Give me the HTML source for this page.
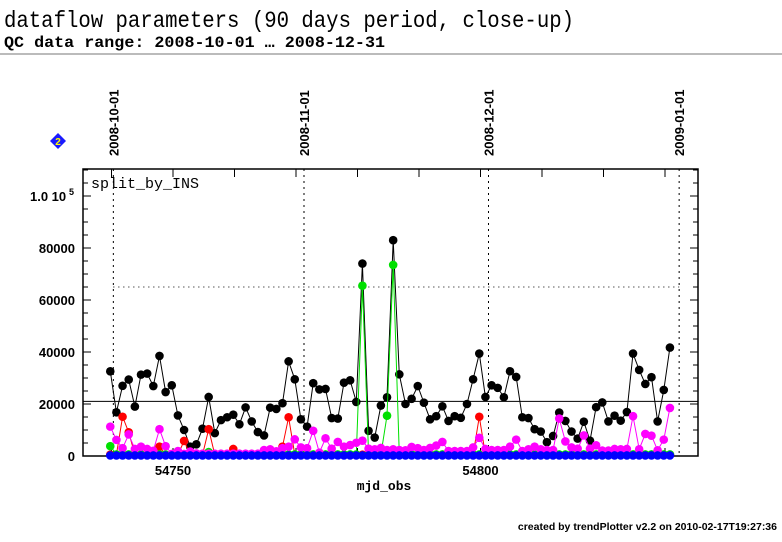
<!DOCTYPE html>
<html><head><meta charset="utf-8"><style>
body{margin:0;background:#fff;width:782px;height:542px;overflow:hidden}
svg{display:block}
</style></head><body>
<svg id="chart" width="782" height="542" xmlns="http://www.w3.org/2000/svg">
<text x="4" y="27" font-family="Liberation Mono, monospace" font-size="23" textLength="570" lengthAdjust="spacingAndGlyphs" fill="#000">dataflow parameters (90 days period, close-up)</text>
<text x="4" y="47" font-family="Liberation Mono, monospace" font-size="16" font-weight="bold" textLength="381" lengthAdjust="spacingAndGlyphs" fill="#000">QC data range: 2008-10-01 … 2008-12-31</text>
<line x1="0" y1="54" x2="782" y2="54" stroke="#777" stroke-width="1"/>
<g><polygon points="58,133 66,141 58,149 50,141" fill="#1a1aff"/><text x="58" y="145" font-family="Liberation Sans, sans-serif" font-size="10" font-weight="bold" fill="#ff0" text-anchor="middle">2</text></g>
<text x="91" y="188" font-family="Liberation Mono, monospace" font-size="15" fill="#000">split_by_INS</text>
<text x="384" y="490" font-family="Liberation Mono, monospace" font-size="13" font-weight="bold" text-anchor="middle">mjd_obs</text>
<text x="777" y="530" font-family="Liberation Sans, sans-serif" font-size="10.5" font-weight="bold" text-anchor="end">created by trendPlotter v2.2 on 2010-02-17T19:27:36</text>
<g id="plot"></g>
</svg>
<script>
const startMjd = 54739.8;
const blackVals = [32560,16800,27000,29400,19000,31300,31700,26900,38500,24600,27200,15600,10000,3600,4500,10500,22700,8800,13800,14900,15900,12200,18700,13300,9200,7900,18600,18100,20300,36400,29500,14100,11300,28000,25600,25800,14600,14400,28200,29100,20800,74000,9700,7100,19400,22600,83000,
31400,20000,22000,26900,20500,14100,15300,19100,13500,15300,14700,20000,29500,39400,22700,27200,26200,22600,32600,30400,14900,14600,10300,9400,5300,7700,16700,13500,9400,6700,13200,5900,18800,20600,13300,15500,13600,16900,39400,33100,27700,30300,13300,25400,41700];
const magentaVals = [11300,6200,3000,8300,2700,3600,2700,2000,10300,3800,800,1900,800,1700,1000,900,900,900,900,900,900,900,900,900,900,2300,2600,1800,3000,3600,6400,3300,3000,9700,1300,6800,2800,5400,3600,4200,5100,5900,2800,2600,3100,2300,2600,
2300,2200,3500,3000,2300,3100,4000,5400,1900,1900,1900,1900,3300,7000,2700,2300,2300,2300,3600,6300,1900,2600,3600,2600,2300,2300,14400,5600,3300,2800,7900,2800,4100,2100,2100,2700,2600,2700,15300,2600,8500,7800,2200,6300,18500];
const redVals = [500,500,15100,9100,500,500,500,500,3600,500,500,500,5800,500,500,500,10300,500,500,500,2700,500,300,300,300,300,300,300,3600,14900,500,500,500,500,500,500,500,500,500,500,500,500,500,500,500,500,500,
500,500,500,500,500,500,500,500,500,500,500,500,500,15100,500,500,500,500,500,500,500,500,500,500,500,500,500,500,500,500,500,500,500,500,500,500,500,500,500,500,500,500,500,500,500];
const greenVals = [3800,600,600,600,600,600,600,600,600,600,600,600,600,600,600,600,1500,600,600,600,600,600,600,600,600,600,600,600,600,600,600,600,600,600,600,600,600,600,600,600,600,65500,600,600,600,15500,73500,
600,600,600,600,600,600,600,600,600,600,600,600,600,600,600,600,600,600,600,600,600,600,600,600,600,600,600,600,600,600,600,600,600,600,600,600,600,600,600,600,600,600,600,600,600];
const blueVals = blackVals.map(()=>200);
const xTickLabels = ["54750","54800"];
const yTickLabels = ["0","20000","40000","60000","80000"];
const dateLabels = ["2008-10-01","2008-11-01","2008-12-01","2009-01-01"];
const dateMjds = [54740.3,54771.3,54801.3,54832.3];

const L=83,R=698,T=169,B=456;
const xS = m => 173 + (m-54750)*6.15;
const yS = v => B - v*26/10000;
const NS="http://www.w3.org/2000/svg";
const g=document.getElementById('plot');
function mk(tag,attrs,parent){const e=document.createElementNS(NS,tag);for(const k in attrs)e.setAttribute(k,attrs[k]);(parent||g).appendChild(e);return e;}

dateMjds.forEach((m,i)=>{
  const l=mk('line',{x1:xS(m),y1:T,x2:xS(m),y2:B,stroke:'#000','stroke-dasharray':'2,4','stroke-width':1});
  
  
  const t=mk('text',{x:0,y:0,transform:`translate(${xS(m)+5},156) rotate(-90)`,'font-family':'Liberation Sans, sans-serif','font-size':13,'font-weight':'bold'});
  t.textContent=dateLabels[i];
  
  
});
const hl=mk('line',{x1:L,y1:yS(21000),x2:R,y2:yS(21000),stroke:'#000','stroke-width':1});


const hd=mk('line',{x1:xS(54740.3),y1:yS(65000),x2:xS(54832.3),y2:yS(65000),stroke:'#000','stroke-dasharray':'1,4','stroke-width':1});



const fr=mk('rect',{x:L,y:T,width:R-L,height:B-T,fill:'none',stroke:'#000','stroke-width':1.5});


for(let v=0;v<=110000;v+=5000){
  const y=yS(v);const len=v%20000===0?8:5;
  mk('line',{x1:L,y1:y,x2:L+len,y2:y,stroke:'#000'});
  mk('line',{x1:R,y1:y,x2:R-len,y2:y,stroke:'#000'});
}
yTickLabels.forEach(s=>{
  const t=mk('text',{x:L-8,y:yS(+s)+5,'text-anchor':'end','font-family':'Liberation Sans, sans-serif','font-size':13,'font-weight':'bold'});
  t.textContent=s;
  
  
});
const ye=mk('text',{x:30,y:201,'font-family':'Liberation Sans, sans-serif','font-size':13,'font-weight':'bold'});
ye.textContent='1.0  10';


const ys=mk('text',{x:69,y:195,'font-family':'Liberation Sans, sans-serif','font-size':9,'font-weight':'bold'});ys.textContent='5';
for(let m=54740;m<=54830;m+=10){
  mk('line',{x1:xS(m),y1:B,x2:xS(m),y2:B-8,stroke:'#000'});
  mk('line',{x1:xS(m),y1:T,x2:xS(m),y2:T+8,stroke:'#000'});
}
xTickLabels.forEach(s=>{
  const t=mk('text',{x:xS(+s),y:475,'text-anchor':'middle','font-family':'Liberation Sans, sans-serif','font-size':13,'font-weight':'bold'});
  t.textContent=s;
  
  
});

function series(vals,color,name){
  const sg=mk('g',{});
  
  
  const pts=vals.map((v,i)=>xS(startMjd+i).toFixed(1)+','+yS(v).toFixed(1)).join(' ');
  mk('polyline',{points:pts,fill:'none',stroke:color,'stroke-width':1},sg);
  vals.forEach((v,i)=>{
    const c=mk('circle',{cx:xS(startMjd+i),cy:yS(v),r:4.3,fill:color},sg);
    
    
  });
}
series(blackVals,'#000','series-black');
series(redVals,'#ff0000','series-red');
series(greenVals,'#00e000','series-green');
series(magentaVals,'#ff00ff','series-magenta');
series(blueVals,'#0000ff','series-blue');
</script>
</body></html>
